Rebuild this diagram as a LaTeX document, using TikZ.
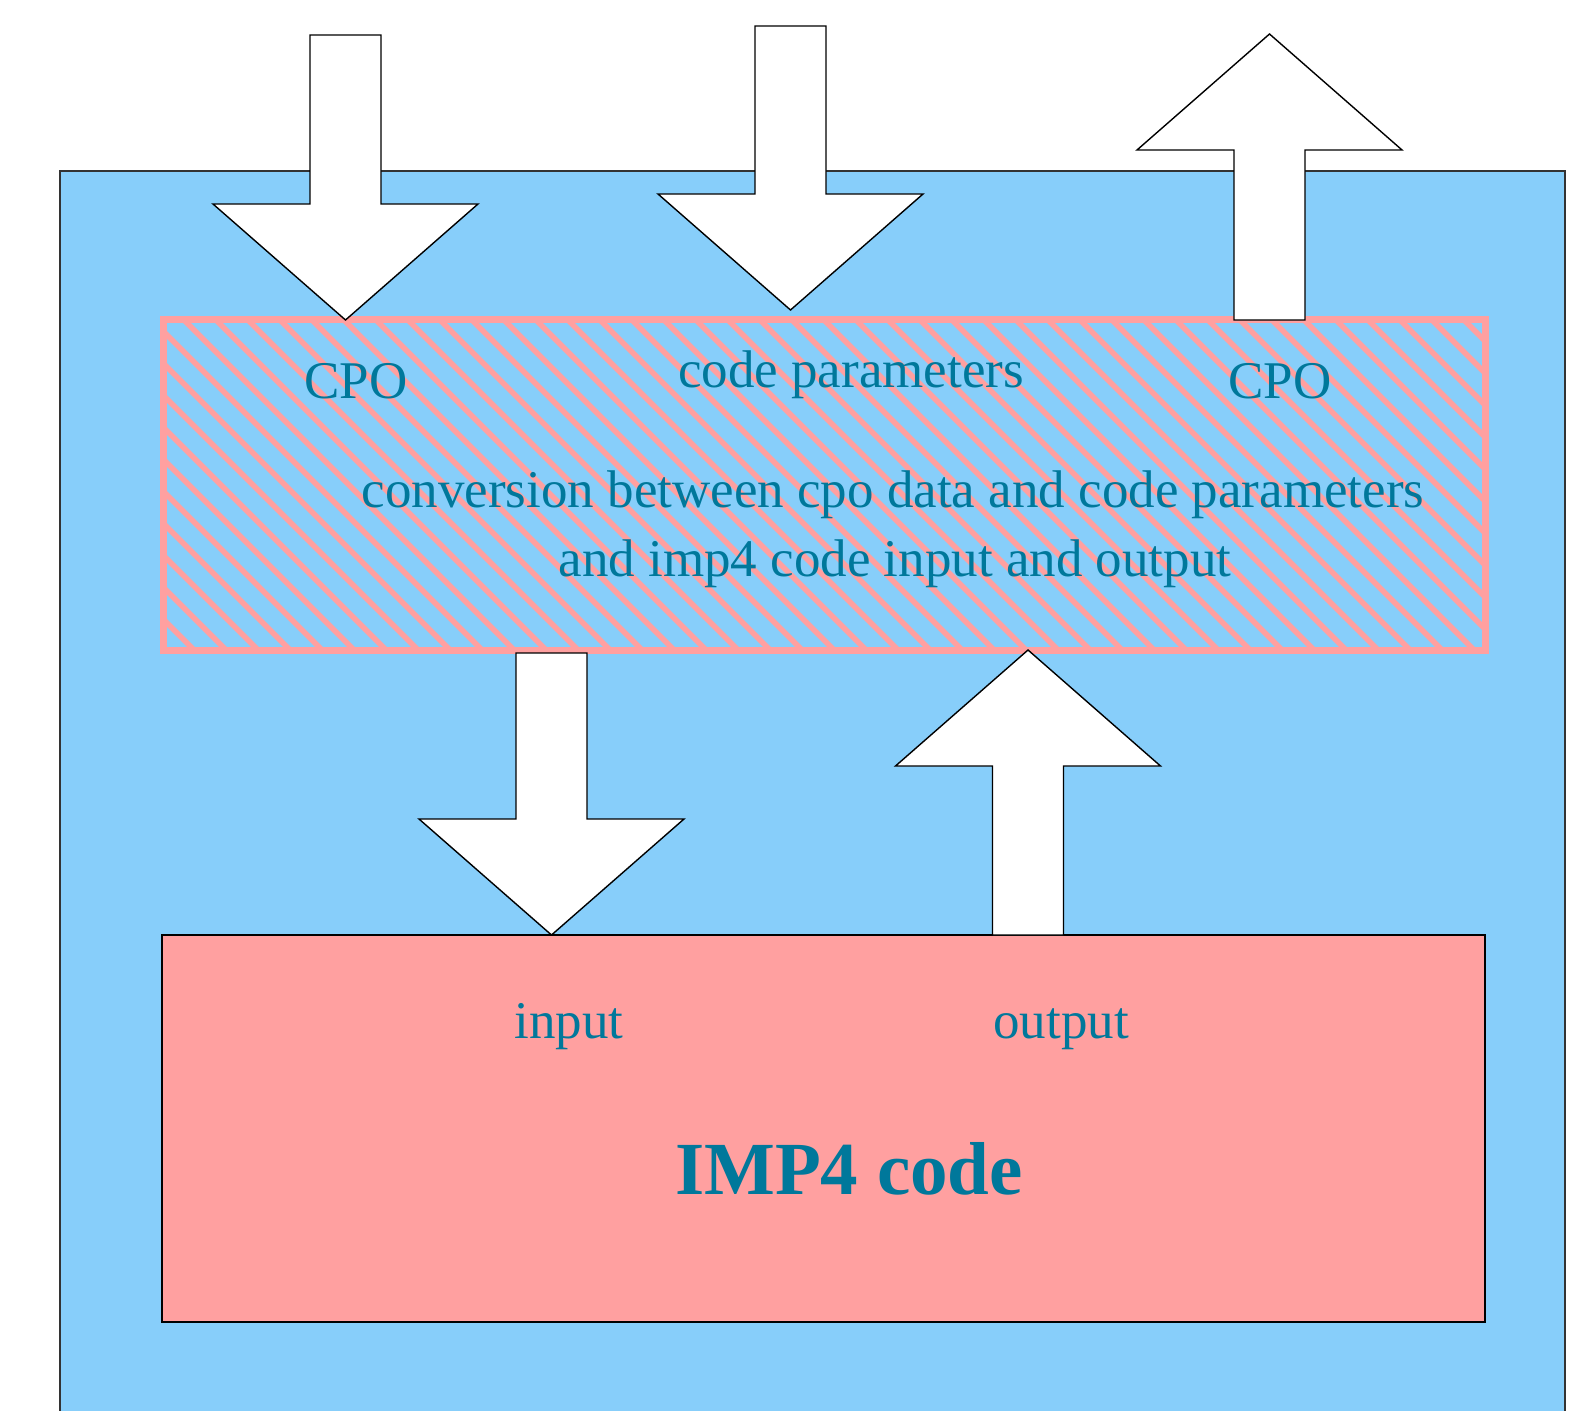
\documentclass[tikz,border=0pt]{standalone}
\usepackage{fontspec}
\setmainfont{Liberation Serif}
\usetikzlibrary{calc}
\definecolor{skyc}{RGB}{135,206,250}
\definecolor{pinkc}{RGB}{255,160,160}
\definecolor{tealc}{RGB}{0,120,155}
\tikzset{
 outerline/.style={draw=black!80, line width=1pt},
 convbox/.style={draw=pinkc, line width=3.5pt, inner sep=0pt, outer sep=0pt, minimum width=661pt, minimum height=165pt},
 hatchline/.style={draw=pinkc, line width=2.8pt},
 impbox/.style={draw=black, fill=pinkc, line width=1pt, inner sep=0pt, outer sep=0pt, minimum width=661.5pt, minimum height=193.5pt},
 lbl/.style={text=tealc, font=\fontsize{26.5pt}{32pt}\selectfont, anchor=base, inner sep=0pt},
 biglbl/.style={text=tealc, font=\fontsize{37.5pt}{45pt}\selectfont\bfseries, anchor=base, inner sep=0pt},
 blockarrow/.style={draw=black, fill=white, line width=0.7pt, line join=miter},
}
\newcommand\blkarrow[2]{%
 \coordinate (ba-h) at ($(#2)!58pt!(#1)$);
 \draw[blockarrow] ($(#1)!17.75pt!90:(#2)$) -- ($(ba-h)!17.75pt!-90:(#1)$) -- ($(ba-h)!66.25pt!-90:(#1)$) -- (#2) -- ($(ba-h)!66.25pt!90:(#1)$) -- ($(ba-h)!17.75pt!90:(#1)$) -- ($(#1)!17.75pt!-90:(#2)$) -- cycle;
}
\begin{document}
\begin{tikzpicture}[x=0.5pt,y=-0.5pt]
\useasboundingbox (0,0) rectangle (1594,1411);
% outer blue box (runs past the bottom edge)
\fill[skyc] (60,171) rectangle (1565,1411);
\draw[outerline] (60,1411) -- (60,171) -- (1565,171) -- (1565,1411);
% conversion box with hatching
\node[convbox] (conv) at (824,485) {};
\begin{scope}
 \clip (conv.south west) rectangle (conv.north east);
 \foreach \k in {-17,...,42} {
  \draw[hatchline] ({-136+32*\k+280},280) -- ({-136+32*\k+700},700);
 }
\end{scope}
% IMP4 code box
\node[impbox] (imp) at (823.5,1128.5) {};
% labels
\node[lbl] (cpoin) at (356,399) {CPO};
\node[lbl] (codepar) at (851,388) {code parameters};
\node[lbl] (cpoout) at (1280,399) {CPO};
\node[lbl] (conv1) at (893,508) {conversion between cpo data and code parameters};
\node[lbl] (conv2) at (895,576) {and imp4 code input and output};
\node[lbl] (inp) at (569,1038) {input};
\node[lbl] (outp) at (1061,1038) {output};
\node[biglbl] (impl) at (849,1194) {IMP4 code};
% block arrows
\coordinate (a1t) at (345.5,35);
\coordinate (a1h) at (345.5,0 |- conv.north);
\coordinate (a2t) at (790.5,26);
\coordinate (a2h) at (790.5,310);
\coordinate (a3t) at (1269.5,0 |- conv.north);
\coordinate (a3h) at (1269.5,34);
\coordinate (a4t) at ($(551.5,0 |- conv.south)+(0,3)$);
\coordinate (a4h) at (551.5,0 |- imp.north);
\coordinate (a5t) at (1028,0 |- imp.north);
\coordinate (a5h) at (1028,0 |- conv.south);
\blkarrow{a1t}{a1h}
\blkarrow{a2t}{a2h}
\blkarrow{a3t}{a3h}
\blkarrow{a4t}{a4h}
\blkarrow{a5t}{a5h}
\end{tikzpicture}
\end{document}
